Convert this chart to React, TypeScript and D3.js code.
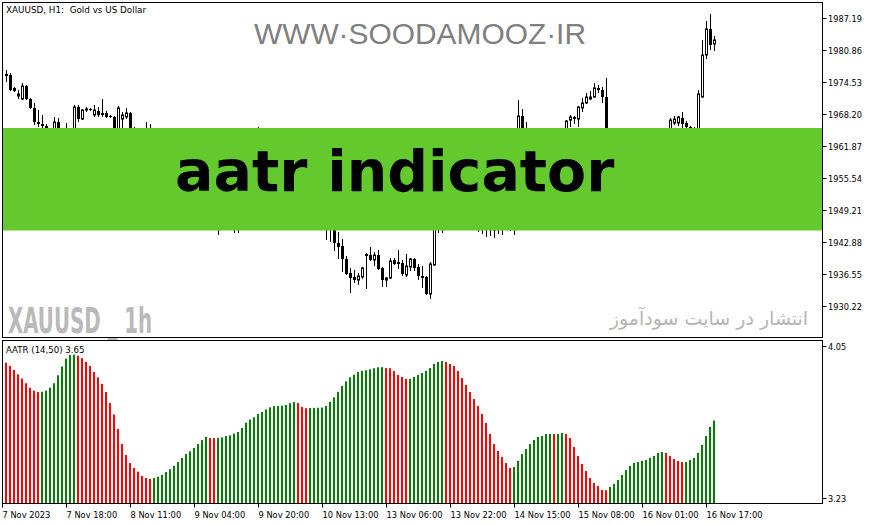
import * as d3 from "d3"

// XAUUSD H1, 7-16 Nov 2023 (prices)
const openP = [
  1976.11, 1975.91, 1973.34, 1971.76, 1971.17, 1973.74, 1971.17, 1969.39, 1966.62, 1966.22,
  1965.83, 1963.85, 1962.66, 1966.62, 1963.45, 1961.87, 1963.06, 1963.85, 1969.58, 1967.21,
  1968.99, 1969.19, 1968.0, 1968.79, 1968.4, 1968.4, 1967.8, 1967.61, 1965.03, 1967.21,
  1967.61, 1968.4, 1964.64, 1965.03, 1963.45, 1964.24, 1964.84, 1962.86, 1961.08, 1959.5,
  1960.09, 1958.31, 1956.73, 1957.91, 1956.13, 1953.96, 1954.75, 1953.17, 1951.19, 1952.37,
  1950.59, 1949.21, 1950.4, 1948.22, 1946.84, 1949.21, 1948.42, 1950.2, 1946.44, 1948.81,
  1952.18, 1955.54, 1959.5, 1962.07, 1960.68, 1958.11, 1959.89, 1957.52, 1959.1, 1956.92,
  1955.14, 1956.33, 1953.96, 1952.37, 1953.56, 1951.39, 1950.0, 1951.19, 1949.21, 1947.63,
  1948.42, 1946.05, 1947.23, 1942.68, 1942.09, 1939.52, 1936.75, 1935.96, 1935.36, 1935.96,
  1940.51, 1940.31, 1939.32, 1940.31, 1937.74, 1935.36, 1935.76, 1939.32, 1938.92, 1938.73,
  1936.35, 1937.94, 1939.52, 1937.94, 1936.15, 1935.96, 1932.59, 1938.33, 1947.63, 1946.84,
  1948.42, 1949.21, 1948.02, 1948.81, 1947.63, 1948.42, 1947.23, 1948.02, 1946.84, 1946.05,
  1945.45, 1946.44, 1945.25, 1946.05, 1945.65, 1946.84, 1947.63, 1946.44, 1947.23, 1967.8,
  1964.24, 1963.45, 1961.87, 1963.06, 1961.47, 1962.27, 1961.08, 1961.87, 1962.66, 1963.45,
  1964.24, 1967.01, 1967.61, 1967.21, 1969.39, 1970.38, 1971.17, 1971.56, 1973.34, 1972.95,
  1971.56, 1962.66, 1961.08, 1962.07, 1960.09, 1959.1, 1960.68, 1958.7, 1957.52, 1959.1,
  1958.11, 1959.5, 1961.08, 1962.07, 1963.06, 1963.85, 1964.64, 1966.42, 1966.42, 1967.41,
  1966.42, 1965.63, 1965.43, 1965.03, 1971.56, 1979.87, 1985.01, 1982.05,
]
const highP = [
  1976.9, 1976.31, 1973.54, 1972.95, 1974.33, 1973.94, 1971.36, 1970.38, 1968.99, 1968.0,
  1966.22, 1965.23, 1967.61, 1967.41, 1965.03, 1966.42, 1965.23, 1969.98, 1969.98, 1969.19,
  1969.58, 1969.39, 1969.98, 1969.58, 1971.17, 1968.79, 1968.0, 1967.8, 1969.78, 1968.6,
  1969.39, 1968.6, 1965.63, 1964.84, 1964.84, 1966.62, 1966.22, 1963.85, 1962.66, 1961.08,
  1961.47, 1959.89, 1958.7, 1959.5, 1957.52, 1955.94, 1956.73, 1955.14, 1953.56, 1954.15,
  1952.37, 1951.58, 1951.98, 1950.2, 1950.0, 1951.58, 1951.19, 1951.98, 1949.61, 1953.17,
  1956.73, 1961.08, 1963.45, 1965.63, 1963.06, 1961.08, 1961.87, 1960.09, 1961.08, 1958.7,
  1957.52, 1958.11, 1956.13, 1954.75, 1955.14, 1953.17, 1952.18, 1952.77, 1951.19, 1949.61,
  1950.2, 1948.81, 1948.81, 1944.86, 1943.47, 1940.11, 1937.74, 1937.34, 1936.75, 1937.94,
  1940.7, 1941.89, 1940.9, 1941.3, 1937.94, 1935.96, 1939.72, 1939.72, 1941.3, 1939.32,
  1940.51, 1939.72, 1939.72, 1938.53, 1938.13, 1936.15, 1938.92, 1948.81, 1950.2, 1949.21,
  1950.4, 1951.19, 1950.0, 1950.4, 1949.61, 1950.0, 1949.21, 1949.61, 1948.42, 1947.63,
  1947.23, 1948.02, 1947.23, 1947.63, 1948.02, 1948.81, 1949.21, 1948.42, 1970.97, 1969.19,
  1966.62, 1965.03, 1964.05, 1964.64, 1963.45, 1964.24, 1963.06, 1963.85, 1964.64, 1965.03,
  1967.01, 1968.0, 1967.8, 1969.78, 1971.36, 1972.35, 1972.75, 1974.33, 1973.94, 1973.54,
  1975.32, 1965.03, 1963.45, 1964.05, 1962.66, 1961.47, 1963.06, 1961.08, 1960.09, 1961.47,
  1960.68, 1962.07, 1963.45, 1964.44, 1965.03, 1965.23, 1967.41, 1967.8, 1967.8, 1968.6,
  1966.81, 1965.83, 1965.63, 1972.95, 1982.84, 1986.6, 1987.98, 1983.63,
]
const lowP = [
  1974.53, 1972.75, 1972.55, 1971.17, 1970.97, 1970.97, 1969.19, 1966.02, 1965.63, 1965.23,
  1963.06, 1961.87, 1962.07, 1962.66, 1961.08, 1960.68, 1962.27, 1963.45, 1966.62, 1967.01,
  1968.6, 1968.79, 1967.61, 1967.61, 1967.61, 1967.41, 1967.41, 1964.44, 1964.44, 1965.43,
  1967.21, 1964.05, 1963.85, 1962.66, 1961.87, 1963.06, 1962.07, 1960.09, 1958.7, 1957.12,
  1957.52, 1955.94, 1955.14, 1955.54, 1953.17, 1951.58, 1952.37, 1950.2, 1948.81, 1950.0,
  1947.63, 1946.84, 1947.23, 1944.26, 1945.65, 1946.84, 1946.05, 1944.66, 1944.66, 1947.63,
  1951.19, 1954.15, 1958.11, 1959.1, 1957.12, 1956.13, 1956.73, 1954.75, 1955.94, 1953.56,
  1952.77, 1953.17, 1951.19, 1950.0, 1950.4, 1948.81, 1947.63, 1948.02, 1946.44, 1945.65,
  1943.28, 1942.88, 1941.1, 1939.52, 1936.95, 1936.35, 1932.79, 1934.77, 1934.37, 1935.56,
  1933.58, 1939.12, 1938.13, 1937.34, 1933.98, 1933.98, 1935.56, 1938.33, 1937.54, 1936.15,
  1935.96, 1937.14, 1937.14, 1935.36, 1933.78, 1932.4, 1931.61, 1938.13, 1944.66, 1944.66,
  1946.05, 1946.84, 1946.05, 1946.84, 1946.05, 1946.44, 1945.65, 1946.05, 1944.86, 1944.46,
  1943.87, 1944.07, 1943.67, 1944.46, 1944.26, 1945.65, 1945.06, 1944.26, 1946.84, 1963.06,
  1962.07, 1961.08, 1960.09, 1960.68, 1959.5, 1960.09, 1959.1, 1959.89, 1961.08, 1961.87,
  1963.45, 1965.63, 1966.22, 1965.63, 1968.6, 1970.18, 1970.97, 1971.36, 1972.35, 1970.38,
  1961.08, 1959.5, 1958.11, 1959.1, 1957.12, 1956.73, 1957.91, 1956.13, 1955.14, 1956.73,
  1955.54, 1957.12, 1958.7, 1960.09, 1961.08, 1962.07, 1964.24, 1966.02, 1965.83, 1965.43,
  1965.03, 1964.64, 1964.24, 1964.64, 1971.36, 1979.08, 1980.86, 1980.66,
]
const closeP = [
  1975.72, 1972.95, 1972.75, 1972.16, 1973.74, 1971.17, 1969.39, 1966.62, 1966.22, 1965.83,
  1963.85, 1962.66, 1966.62, 1963.45, 1961.87, 1963.06, 1963.85, 1969.58, 1967.21, 1968.99,
  1969.19, 1968.99, 1968.99, 1968.0, 1968.0, 1967.61, 1967.61, 1965.03, 1969.39, 1968.0,
  1968.4, 1964.64, 1965.23, 1963.45, 1964.24, 1964.84, 1962.86, 1961.08, 1959.5, 1960.09,
  1958.31, 1956.73, 1957.91, 1956.13, 1953.96, 1954.75, 1953.17, 1951.19, 1952.37, 1950.59,
  1949.21, 1950.4, 1948.22, 1946.84, 1949.21, 1948.42, 1950.2, 1946.44, 1948.81, 1952.18,
  1955.54, 1959.5, 1962.07, 1960.68, 1958.11, 1959.89, 1957.52, 1959.1, 1956.92, 1955.14,
  1956.33, 1953.96, 1952.37, 1953.56, 1951.39, 1950.0, 1951.19, 1949.21, 1947.63, 1948.42,
  1946.05, 1947.23, 1942.68, 1941.89, 1939.52, 1936.55, 1935.76, 1935.36, 1936.15, 1937.74,
  1940.11, 1939.32, 1940.31, 1937.54, 1935.36, 1935.76, 1939.12, 1938.53, 1938.53, 1936.55,
  1938.13, 1939.52, 1937.74, 1936.15, 1935.76, 1932.59, 1938.53, 1947.63, 1946.84, 1948.42,
  1949.21, 1948.02, 1948.81, 1947.63, 1948.42, 1947.23, 1948.02, 1946.84, 1946.05, 1945.45,
  1946.44, 1945.25, 1946.05, 1945.65, 1946.84, 1947.63, 1946.44, 1947.23, 1967.8, 1964.24,
  1963.45, 1961.87, 1963.06, 1961.47, 1962.27, 1961.08, 1961.87, 1962.66, 1963.45, 1964.24,
  1966.81, 1967.61, 1967.21, 1969.58, 1970.38, 1971.56, 1971.56, 1973.34, 1972.95, 1971.56,
  1962.66, 1961.08, 1962.07, 1960.09, 1959.1, 1960.68, 1958.7, 1957.52, 1959.1, 1958.11,
  1959.5, 1961.08, 1962.07, 1963.06, 1963.85, 1964.64, 1967.01, 1967.21, 1967.61, 1966.22,
  1965.63, 1965.43, 1965.03, 1972.16, 1979.87, 1985.01, 1981.85, 1982.84,
]

// AATR(14,50) histogram
const aatr = [
  3.96, 3.942, 3.921, 3.897, 3.874, 3.849, 3.825, 3.809, 3.802, 3.803,
  3.809, 3.825, 3.849, 3.892, 3.939, 3.982, 4.001, 4.003, 3.998, 3.985,
  3.964, 3.942, 3.91, 3.881, 3.845, 3.802, 3.742, 3.68, 3.602, 3.521,
  3.462, 3.419, 3.392, 3.372, 3.349, 3.338, 3.333, 3.338, 3.345, 3.354,
  3.37, 3.385, 3.403, 3.424, 3.446, 3.467, 3.482, 3.5, 3.521, 3.543,
  3.559, 3.554, 3.553, 3.554, 3.557, 3.564, 3.568, 3.577, 3.586, 3.608,
  3.636, 3.653, 3.665, 3.683, 3.694, 3.708, 3.719, 3.726, 3.727, 3.728,
  3.732, 3.741, 3.748, 3.742, 3.721, 3.714, 3.715, 3.716, 3.717, 3.718,
  3.726, 3.748, 3.773, 3.802, 3.834, 3.859, 3.881, 3.895, 3.91, 3.915,
  3.919, 3.924, 3.93, 3.935, 3.936, 3.931, 3.93, 3.915, 3.894, 3.883,
  3.872, 3.873, 3.883, 3.894, 3.904, 3.915, 3.931, 3.953, 3.964, 3.969,
  3.964, 3.953, 3.942, 3.915, 3.877, 3.84, 3.802, 3.764, 3.726, 3.683,
  3.635, 3.575, 3.521, 3.484, 3.451, 3.419, 3.392, 3.397, 3.43, 3.467,
  3.494, 3.521, 3.543, 3.559, 3.564, 3.575, 3.576, 3.575, 3.576, 3.581,
  3.575, 3.554, 3.505, 3.457, 3.413, 3.376, 3.338, 3.311, 3.295, 3.273,
  3.272, 3.289, 3.306, 3.327, 3.354, 3.381, 3.403, 3.419, 3.424, 3.43,
  3.435, 3.446, 3.457, 3.473, 3.478, 3.473, 3.457, 3.44, 3.43, 3.424,
  3.425, 3.435, 3.446, 3.473, 3.516, 3.564, 3.613, 3.648,
]

const priceTicks = [1987.19, 1980.86, 1974.53, 1968.2, 1961.87, 1955.54, 1949.21, 1942.88, 1936.55, 1930.22]
const aatrTicks = [4.05, 3.23]
const timeLabels = [
  "7 Nov 2023", "7 Nov 18:00", "8 Nov 11:00", "9 Nov 04:00", "9 Nov 20:00", "10 Nov 13:00",
  "13 Nov 06:00", "13 Nov 22:00", "14 Nov 15:00", "15 Nov 08:00", "16 Nov 01:00", "16 Nov 17:00",
]

const FONT = "DejaVu Sans, Tahoma, sans-serif"

export default function App() {
  const n = openP.length
  const x = d3.scaleLinear().domain([0, n - 1]).range([6.5, 714.5])
  const yP = d3.scaleLinear().domain([1930.22, 1987.19]).range([306, 18])
  const yA = d3.scaleLinear().domain([3.23, 4.05]).range([498, 346])

  const left = 2.5
  const right = 822.5
  const mainTop = 2.5
  const mainBottom = 337.5
  const indTop = 340.5
  const indBottom = 503.5

  return (
    <svg
      width={876}
      height={525}
      style={{ position: "absolute", left: 0, top: 0, background: "#fff" }}
    >
      <defs>
        <clipPath id="mainClip">
          <rect x={left} y={mainTop} width={right - left} height={mainBottom - mainTop} />
        </clipPath>
        <clipPath id="indClip">
          <rect x={left} y={indTop} width={right - left} height={indBottom - indTop} />
        </clipPath>
      </defs>
      <rect width={876} height={525} fill="#fff" />

      {/* watermark */}
      <text
        x={420}
        y={44}
        textAnchor="middle"
        fontFamily="Liberation Sans, Arial, sans-serif"
        fontSize={30}
        fill="#7f7f7f"
        textLength={332}
        lengthAdjust="spacingAndGlyphs"
      >
        WWW·SOODAMOOZ·IR
      </text>

      {/* candles */}
      <g clipPath="url(#mainClip)">
        {openP.map((o, i) => {
          const c = closeP[i]
          const cx = x(i)
          const bull = c >= o
          const top = yP(Math.max(o, c))
          const bot = yP(Math.min(o, c))
          return (
            <g key={i}>
              <line x1={cx} x2={cx} y1={yP(highP[i])} y2={yP(lowP[i])} stroke="#000" strokeWidth={1} />
              {bull ? (
                <rect x={cx - 1} y={top} width={2} height={Math.max(bot - top, 1)} fill="#fff" stroke="#000" strokeWidth={1} />
              ) : (
                <rect x={cx - 1.5} y={top} width={3} height={Math.max(bot - top, 1)} fill="#000" />
              )}
            </g>
          )
        })}
      </g>

      {/* green banner */}
      <rect x={3} y={128} width={819} height={102.5} fill="#63c92c" />
      <text x={175} y={191} fontFamily="DejaVu Sans, sans-serif" fontWeight="bold" fontSize={57} fill="#000">
        aatr indicator
      </text>

      <text
        x={8}
        y={333}
        fontFamily="DejaVu Sans Condensed, Liberation Sans Narrow, DejaVu Sans, sans-serif"
        fontWeight="bold"
        fontSize={36}
        fill="#b9b9b9"
        textLength={144}
        lengthAdjust="spacingAndGlyphs"
        xmlSpace="preserve"
      >
        XAUUSD _ 1h
      </text>
      <text x={709} y={325} textAnchor="middle" fontFamily="DejaVu Sans, sans-serif" fontSize={19} fill="#b5b5b5" direction="rtl">
        انتشار در سایت سودآموز
      </text>

      <text x={6} y={13} fontFamily={FONT} fontSize={8.8} fill="#000" xmlSpace="preserve">
        XAUUSD, H1:  Gold vs US Dollar
      </text>

      {/* indicator histogram */}
      <g clipPath="url(#indClip)">
        {aatr.map((v, i) => {
          const up = i > 0 && v > aatr[i - 1]
          return (
            <rect
              key={i}
              x={x(i) - 1.5}
              y={yA(v)}
              width={2}
              height={indBottom - yA(v)}
              fill={up ? "#008000" : "#ff0000"}
            />
          )
        })}
      </g>
      <text x={6} y={353} fontFamily={FONT} fontSize={8.6} fill="#000">
        {`AATR (14,50) ${aatr[n - 1].toFixed(2)}`}
      </text>

      {/* frames */}
      <rect x={left} y={mainTop} width={right - left} height={mainBottom - mainTop} fill="none" stroke="#000" />
      <rect x={left} y={indTop} width={right - left} height={indBottom - indTop} fill="none" stroke="#000" />

      {/* price axis */}
      {priceTicks.map((p) => (
        <g key={p}>
          <line x1={right} x2={right + 4} y1={Math.round(yP(p)) + 0.5} y2={Math.round(yP(p)) + 0.5} stroke="#000" />
          <text x={828} y={yP(p) + 3.5} fontFamily={FONT} fontSize={8.2} fill="#000">
            {p.toFixed(2)}
          </text>
        </g>
      ))}
      {aatrTicks.map((v) => (
        <g key={v}>
          <line x1={right} x2={right + 4} y1={Math.round(yA(v)) + 0.5} y2={Math.round(yA(v)) + 0.5} stroke="#000" />
          <text x={828} y={yA(v) + 3.5} fontFamily={FONT} fontSize={8.2} fill="#000">
            {v.toFixed(2)}
          </text>
        </g>
      ))}

      {/* time axis */}
      {timeLabels.map((t, k) => {
        const tx = x(-1 + 16 * k)
        return (
          <g key={t}>
            <line x1={tx} x2={tx} y1={indBottom} y2={indBottom + 4} stroke="#000" />
            <text x={tx} y={518} fontFamily={FONT} fontSize={8.3} fill="#000">
              {t}
            </text>
          </g>
        )
      })}
    </svg>
  )
}
